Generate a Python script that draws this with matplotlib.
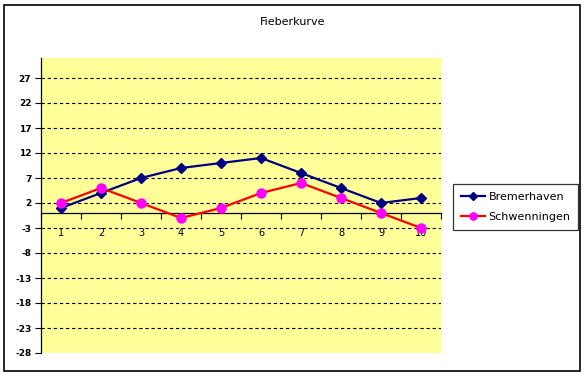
import matplotlib.pyplot as plt
from matplotlib.patches import Rectangle

# Daten
tage = [1, 2, 3, 4, 5, 6, 7, 8, 9, 10]
bremerhaven = [1, 4, 7, 9, 10, 11, 8, 5, 2, 3]
schwenningen = [2, 5, 2, -1, 1, 4, 6, 3, 0, -3]
y_ticks = [-28, -23, -18, -13, -8, -3, 2, 7, 12, 17, 22, 27]

fig = plt.figure(figsize=(5.85, 3.78), dpi=100)
fig.patch.set_facecolor('white')

# Rahmen um das ganze Diagramm
fig.patches.append(Rectangle((4 / 585, 7 / 378), 576 / 585, 366 / 378,
                             transform=fig.transFigure, fill=False,
                             edgecolor='black', linewidth=1.2))

ax = fig.add_axes([41 / 585, 25 / 378, 400 / 585, 295 / 378])
ax.set_facecolor('#FFFF99')

# Gitterlinien gestrichelt
for y in y_ticks[1:]:
    ax.axhline(y, color='black', linestyle=(0, (3, 2.5)), linewidth=0.8, zorder=1)

ax.plot(tage, bremerhaven, color='#000080', linewidth=1.6, marker='D',
        markersize=5, label='Bremerhaven', zorder=3)
ax.plot(tage, schwenningen, color='#FF0000', linewidth=1.6, marker='o',
        markersize=6.5, markerfacecolor='#FF00FF', markeredgecolor='#FF00FF',
        label='Schwenningen', zorder=3)

ax.set_xlim(0.5, 10.5)
ax.set_ylim(-28, 31)
ax.set_yticks(y_ticks)
ax.set_yticklabels([str(v) for v in y_ticks], fontsize=6.5, fontweight='bold')
ax.tick_params(axis='y', length=4, width=0.8, pad=3)

# x-Achse bei 0
ax.spines['bottom'].set_position(('data', 0))
ax.spines['top'].set_visible(False)
ax.spines['right'].set_visible(False)
ax.spines['left'].set_linewidth(0.9)
ax.spines['bottom'].set_linewidth(0.9)
ax.set_xticks(tage)
ax.set_xticklabels([str(t) for t in tage], fontsize=7)
ax.tick_params(axis='x', length=0, pad=11)
ax.set_xticks([t + 0.5 for t in [0] + tage], minor=True)
ax.tick_params(axis='x', which='minor', length=4, width=0.8, direction='out')

fig.text(0.5, 1 - 22 / 378, 'Fieberkurve', ha='center', va='center',
         fontsize=8)

leg = fig.legend(loc='lower left', bbox_to_anchor=(453 / 585, 1 - 230 / 378),
                 fontsize=8, frameon=True, fancybox=False, borderpad=0.7,
                 handlelength=2.2, handletextpad=0.3, labelspacing=0.9,
                 borderaxespad=0, markerscale=0.8)
leg.get_frame().set_edgecolor('black')
leg.get_frame().set_linewidth(0.9)

fig.savefig('out.png', dpi=100)
